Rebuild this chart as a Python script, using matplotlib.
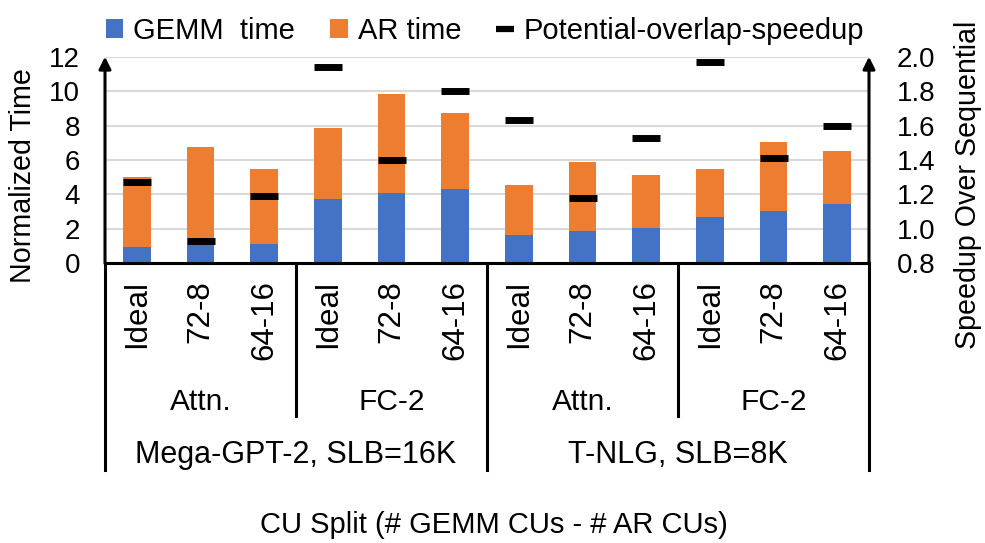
import matplotlib
matplotlib.use("Agg")
import matplotlib.pyplot as plt
from matplotlib.patches import Patch
from matplotlib.lines import Line2D
import numpy as np

plt.rcParams['font.family'] = ['Liberation Sans', 'DejaVu Sans']

# ---- data ----
splits = ['Ideal', '72-8', '64-16'] * 4
layers = ['Attn.', 'FC-2', 'Attn.', 'FC-2']
models = ['Mega-GPT-2, SLB=16K', 'T-NLG, SLB=8K']
gemm_time = [0.93, 1.05, 1.14, 3.75, 4.10, 4.33, 1.66, 1.89, 2.07, 2.67, 3.04, 3.44]
ar_time = [4.07, 5.72, 4.35, 4.09, 5.73, 4.40, 2.89, 4.01, 3.06, 2.82, 4.02, 3.08]
speedup = [1.27, 0.93, 1.19, 1.94, 1.40, 1.80, 1.63, 1.18, 1.53, 1.97, 1.41, 1.60]

BLUE = '#4472C4'
ORANGE = '#ED7D31'
TICK_FS = 20

W, H = 985, 543
fig = plt.figure(figsize=(W / 100, H / 100), dpi=100)
ax = fig.add_axes([105 / W, 1 - 263.3 / H, 764 / W, 206.6 / H])
ax2 = ax.twinx()

x = np.arange(len(splits))
bw = 0.43
ax.bar(x, gemm_time, bw, color=BLUE, zorder=3)
ax.bar(x, ar_time, bw, bottom=gemm_time, color=ORANGE, zorder=3)
ax2.plot(x, speedup, linestyle='none', marker='_', ms=19.5, mew=5,
         color='black', zorder=5)

ax.set_xlim(-0.5, len(splits) - 0.5)
ax.set_ylim(0, 12)
ax.set_yticks(np.arange(0, 13, 2))
ax2.set_ylim(0.8, 2.0)
ax2.set_yticks(np.arange(0.8, 2.01, 0.2))
ax2.set_yticklabels([f'{v:.1f}' for v in np.arange(0.8, 2.01, 0.2)])

ax.yaxis.grid(True, color='#d9d9d9', lw=1.5, zorder=0)
ax.set_axisbelow(True)
for a in (ax, ax2):
    for s in a.spines.values():
        s.set_visible(False)
ax.tick_params(axis='y', length=0, pad=18, labelsize=TICK_FS)
ax2.tick_params(axis='y', length=0, pad=20, labelsize=TICK_FS)
ax.set_xticks(x)
ax.set_xticklabels(splits, rotation=90, fontsize=22.5)
ax.tick_params(axis='x', length=0, pad=12)

# axis lines with arrowheads
lw = 2.2
for xa in (0, 1):
    ax.annotate('', xy=(xa, 1.0), xytext=(xa, 0), xycoords='axes fraction',
                arrowprops=dict(arrowstyle='-|>', lw=lw, color='black',
                                mutation_scale=18, shrinkA=0, shrinkB=0),
                zorder=6)
ax.plot([0, 1], [0, 0], transform=ax.transAxes, color='black', lw=lw,
        clip_on=False, zorder=6)

# category separators below the axis
tx = ax.get_xaxis_transform()
ax_h = 206.6
short_y = (263.3 - 415.7) / ax_h
long_y = (263.3 - 470) / ax_h
for xs in (2.5, 8.5):
    ax.plot([xs, xs], [0, short_y], transform=tx, color='black', lw=lw,
            clip_on=False)
for xs in (-0.5, 5.5, 11.5):
    ax.plot([xs, xs], [0, long_y], transform=tx, color='black', lw=lw,
            clip_on=False)

layer_y = (263.3 - 401.7) / ax_h
for i, name in enumerate(layers):
    ax.text(3 * i + 1, layer_y, name, transform=tx, ha='center', va='center',
            fontsize=21.5)
model_y = (263.3 - 455) / ax_h
for i, name in enumerate(models):
    ax.text(6 * i + 2.5, model_y, name, transform=tx, ha='center', va='center',
            fontsize=22)

fig.text(494 / W, 1 - 525 / H, 'CU Split (# GEMM CUs - # AR CUs)',
         ha='center', va='center', fontsize=21)
fig.text(23 / W, 1 - 176 / H, 'Normalized Time', rotation=90,
         ha='center', va='center', fontsize=20.6)
fig.text(968 / W, 1 - 185 / H, 'Speedup Over Sequential', rotation=90,
         ha='center', va='center', fontsize=20.6)

handles = [Patch(facecolor=BLUE), Patch(facecolor=ORANGE),
           Line2D([], [], color='black', lw=4.5, solid_capstyle='butt')]
labels = ['GEMM  time', 'AR time', 'Potential-overlap-speedup']
fig.legend(handles, labels, loc='center', bbox_to_anchor=(485 / W, 1 - 31 / H),
           ncol=3, frameon=False, fontsize=21, handlelength=0.6,
           handleheight=0.6, handletextpad=0.35, columnspacing=1.2,
           borderpad=0, borderaxespad=0)

fig.savefig('out.png', dpi=100)
